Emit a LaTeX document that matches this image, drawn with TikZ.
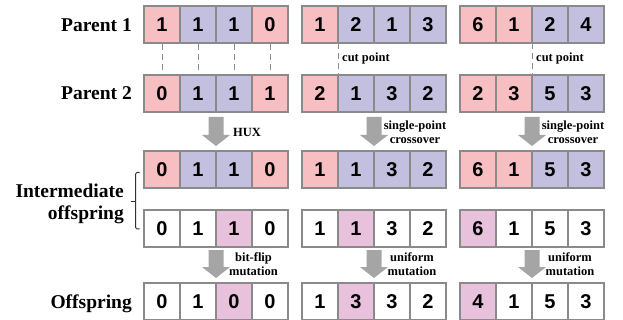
\documentclass[tikz,border=0pt]{standalone}
\usepackage{fontspec}
\setmainfont{Liberation Serif}
\newfontfamily\digitfont{Liberation Sans}
\usetikzlibrary{calc}
\definecolor{pinkc}{HTML}{F8BFC3}
\definecolor{lavc}{HTML}{C3BFDF}
\definecolor{mauvec}{HTML}{E8C1DC}
\definecolor{bordc}{HTML}{8A8A8A}
\definecolor{arrowc}{HTML}{A5A5A5}
\definecolor{dashc}{HTML}{8C8C8C}
\newcommand\genes[4]{% name prefix, left edge x, centre y, list fill/value
  \foreach \f/\v [count=\i] in {#4} {%
    \node[cell, fill=\f] (#1c\i) at ({#2+18+36*(\i-1)}, #3) {\raisebox{-1.5pt}{\v}};}}
\newcommand\blockarrow[2]{% top coordinate, length
  \fill[arrowc, shift={(#1)}] (-7.5,0) -- (7.5,0) -- (7.5,#2-11) -- (14,#2-11) -- (0,#2) -- (-14,#2-11) -- (-7.5,#2-11) -- cycle;}
\begin{document}
\begin{tikzpicture}[x=1pt,y=-1pt,
  cell/.style={draw=bordc, line width=1.1pt, minimum width=36pt, minimum height=37pt,
    inner sep=0pt, outer sep=0pt, font=\digitfont\bfseries\fontsize{20}{20}\selectfont},
  lab/.style={inner sep=0pt, font=\bfseries\fontsize{19.5}{22}\selectfont},
  small/.style={inner sep=0pt, align=center, font=\bfseries\fontsize{12.5}{14}\selectfont},
  dashline/.style={draw=dashc, line width=0.8pt, dash pattern=on 6pt off 4pt}]
\useasboundingbox[fill=white] (0,0) rectangle (623,320);

% row labels
\node[lab, anchor=base east] (lp1) at (132,32) {Parent 1};
\node[lab, anchor=base east] (lp2) at (132,100) {Parent 2};
\node[lab, anchor=east, align=right] (lint) at (124,203.5) {Intermediate\\offspring};
\node[lab, anchor=base east] (loff) at (132,308) {Offspring};

% Parent 1
\genes{r1g1}{144}{24.5}{pinkc/1, lavc/1, lavc/1, pinkc/0}
\genes{r1g2}{302}{24.5}{pinkc/1, lavc/2, lavc/1, lavc/3}
\genes{r1g3}{460}{24.5}{pinkc/6, pinkc/1, lavc/2, lavc/4}
% Parent 2
\genes{r2g1}{144}{93.5}{pinkc/0, lavc/1, lavc/1, pinkc/1}
\genes{r2g2}{302}{93.5}{pinkc/2, lavc/1, lavc/3, lavc/2}
\genes{r2g3}{460}{93.5}{pinkc/2, pinkc/3, lavc/5, lavc/3}
% Intermediate 1
\genes{r3g1}{144}{169.5}{pinkc/0, lavc/1, lavc/1, pinkc/0}
\genes{r3g2}{302}{169.5}{pinkc/1, lavc/1, lavc/3, lavc/2}
\genes{r3g3}{460}{169.5}{pinkc/6, pinkc/1, lavc/5, lavc/3}
% Intermediate 2
\genes{r4g1}{144}{228.5}{white/0, white/1, mauvec/1, white/0}
\genes{r4g2}{302}{228.5}{white/1, mauvec/1, white/3, white/2}
\genes{r4g3}{460}{228.5}{mauvec/6, white/1, white/5, white/3}
% Offspring
\genes{r5g1}{144}{301.5}{white/0, white/1, mauvec/0, white/0}
\genes{r5g2}{302}{301.5}{white/1, mauvec/3, white/3, white/2}
\genes{r5g3}{460}{301.5}{mauvec/4, white/1, white/5, white/3}

% HUX dashed links
\foreach \i in {1,2,3,4}
  \draw[dashline, shorten <=1pt, shorten >=3pt] (r1g1c\i.south) -- (r2g1c\i.north);
% cut points
\draw[dashline] (r1g2c1.south east) -- (r2g2c1.north east);
\draw[dashline] (r1g3c2.south east) -- (r2g3c2.north east);
\node[small, anchor=base west] (cut2) at ([xshift=4pt,yshift=-19pt]r1g2c1.south east) {cut point};
\node[small, anchor=base west] (cut3) at ([xshift=4pt,yshift=-19pt]r1g3c2.south east) {cut point};

% crossover arrows
\coordinate (xa1) at ([yshift=-5pt]r2g1c2.south east);
\coordinate (xa2) at ([yshift=-5pt]r2g2c2.south east);
\coordinate (xa3) at ([yshift=-5pt]r2g3c2.south east);
\blockarrow{xa1}{29}
\blockarrow{xa2}{29}
\blockarrow{xa3}{29}
\node[small, anchor=west] (hux) at ([xshift=17pt,yshift=-15pt]xa1) {HUX};
\node[small] (spx2) at ([xshift=41pt,yshift=-15pt]xa2) {single-point\\crossover};
\node[small] (spx3) at ([xshift=41pt,yshift=-15pt]xa3) {single-point\\crossover};

% mutation arrows
\coordinate (ma1) at ([yshift=-3pt]r4g1c2.south east);
\coordinate (ma2) at ([yshift=-3pt]r4g2c2.south east);
\coordinate (ma3) at ([yshift=-3pt]r4g3c2.south east);
\blockarrow{ma1}{28}
\blockarrow{ma2}{28}
\blockarrow{ma3}{28}
\node[small] (bfm) at ([xshift=37.5pt,yshift=-14pt]ma1) {bit-flip\\mutation};
\node[small] (um2) at ([xshift=38pt,yshift=-14pt]ma2) {uniform\\mutation};
\node[small] (um3) at ([xshift=38pt,yshift=-14pt]ma3) {uniform\\mutation};

% bracket
\draw[black!80, line width=1pt, rounded corners=1.5pt] (139.5,172.5) -- (135.5,172.5) -- (135.5,229) -- (139.5,229);
\draw[black!80, line width=1pt] (130.5,202) -- (135.5,202);
\end{tikzpicture}
\end{document}
